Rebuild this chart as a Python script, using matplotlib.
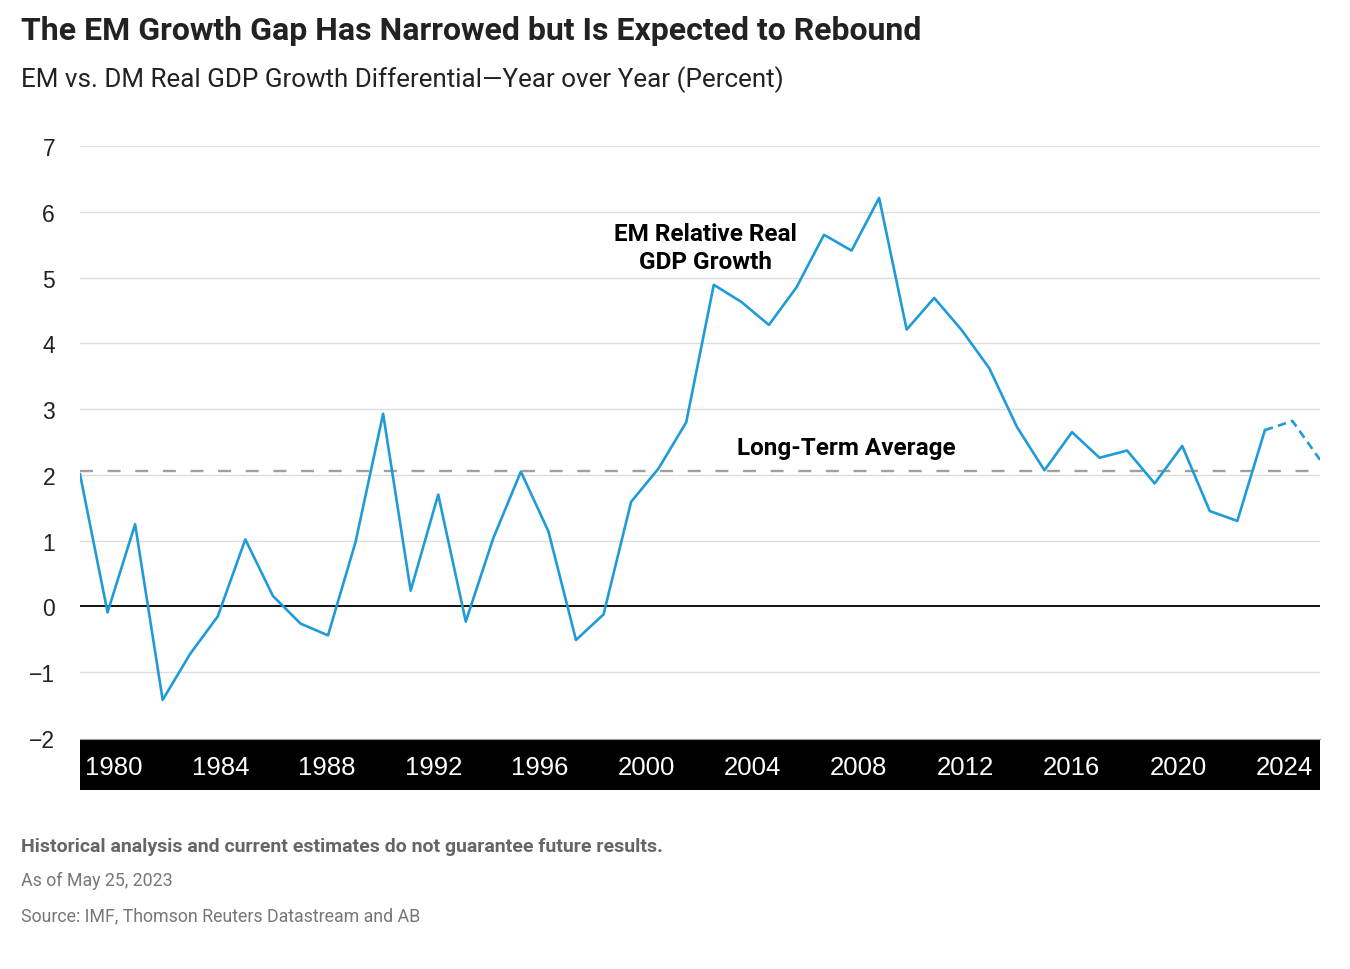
import matplotlib
matplotlib.use("Agg")
import matplotlib.pyplot as plt

years = list(range(1980, 2026))
values = [2.01, -0.09, 1.25, -1.42, -0.72, -0.15, 1.02, 0.16, -0.26, -0.44,
          0.98, 2.93, 0.24, 1.70, -0.23, 1.04, 2.05, 1.14, -0.51, -0.12,
          1.59, 2.10, 2.80, 4.89, 4.63, 4.28, 4.85, 5.65, 5.41, 6.21,
          4.21, 4.69, 4.20, 3.62, 2.73, 2.07, 2.65, 2.26, 2.37, 1.87,
          2.44, 1.45, 1.30, 2.68, 2.82, 2.23]
estimate_start = 2023
long_term_avg = 2.06
x_ticks = [1980, 1984, 1988, 1992, 1996, 2000, 2004, 2008, 2012, 2016, 2020, 2024]
y_ticks = [-2, -1, 0, 1, 2, 3, 4, 5, 6, 7]
y_labels = ["\u22122", "\u22121", "0", "1", "2", "3", "4", "5", "6", "7"]

title = "The EM Growth Gap Has Narrowed but Is Expected to Rebound"
subtitle = "EM vs. DM Real GDP Growth Differential\u2014Year over Year (Percent)"
series_label = "EM Relative Real\nGDP Growth"
avg_label = "Long-Term Average"
footer_bold = "Historical analysis and current estimates do not guarantee future results."
footer_lines = ["As of May 25, 2023", "Source: IMF, Thomson Reuters Datastream and AB"]

W, H = 1350, 970
fig = plt.figure(figsize=(W / 100, H / 100), dpi=100)
fig.patch.set_facecolor("white")

def fx(px):
    return px / W

def fy(py):
    return 1 - py / H

ax_l, ax_r, ax_t, ax_b = 80, 1320, 147, 739
ax = fig.add_axes([fx(ax_l), fy(ax_b), (ax_r - ax_l) / W, (ax_b - ax_t) / H])
ax.set_xlim(years[0], years[-1])
ax.set_ylim(-2, 7)
for s in ax.spines.values():
    s.set_visible(False)
ax.set_xticks([])
ax.set_yticks(y_ticks)
ax.set_yticklabels(y_labels, fontsize=16.5, color="#222222", family="Liberation Sans")
ax.tick_params(axis="y", length=0, pad=18)

for yv in y_ticks:
    if yv == 0:
        ax.axhline(0, color="black", lw=1.3, zorder=2)
    elif yv > -2:
        ax.axhline(yv, color="#dddddd", lw=1.0, zorder=1)

ax.axhline(long_term_avg, color="#a0a0a0", lw=1.7, dashes=(5.5, 6.2), zorder=2)

idx = years.index(estimate_start)
ax.plot(years[:idx + 1], values[:idx + 1], color="#1f9bd7", lw=1.9, zorder=3)
ax.plot(years[idx:], values[idx:], color="#1f9bd7", lw=1.9, zorder=3,
        dashes=(3.2, 2.0))

ax.text(2002.7, 5.46, series_label, ha="center", va="center", fontsize=17.5,
        fontweight="bold", family="Roboto", color="black", linespacing=1.3)
ax.text(2007.8, 2.42, avg_label, ha="center", va="center", fontsize=17.5,
        fontweight="bold", family="Roboto", color="black")

# black x-axis band with year labels
band = fig.add_axes([fx(80), fy(791), (1320 - 80) / W, (791 - 739.5) / H])
band.set_facecolor("black")
band.set_xlim(1978.72, 2025.34)
band.set_ylim(0, 1)
for name, s in band.spines.items():
    s.set_visible(name == "top")
band.spines["top"].set_color("#999999")
band.spines["top"].set_linewidth(0.8)
band.set_xticks([])
band.set_yticks([])
for t in x_ticks:
    band.text(t, 0.44, str(t), ha="center", va="center", fontsize=18.5,
              color="white", family="Liberation Sans")

fig.text(fx(21), fy(31), title, ha="left", va="center", fontsize=23,
         fontweight="bold", family="Roboto", color="#222222")
fig.text(fx(21), fy(80), subtitle, ha="left", va="center", fontsize=18.7,
         family="Roboto", color="#222222")

fig.text(fx(21), fy(847), footer_bold, ha="left", va="center", fontsize=14,
         fontweight="bold", family="Roboto", color="#666666")
for i, line in enumerate(footer_lines):
    fig.text(fx(21), fy(881 + 35 * i), line, ha="left", va="center", fontsize=12.8,
             family="Roboto", color="#777777")

fig.savefig("out.png", dpi=100, facecolor="white")
